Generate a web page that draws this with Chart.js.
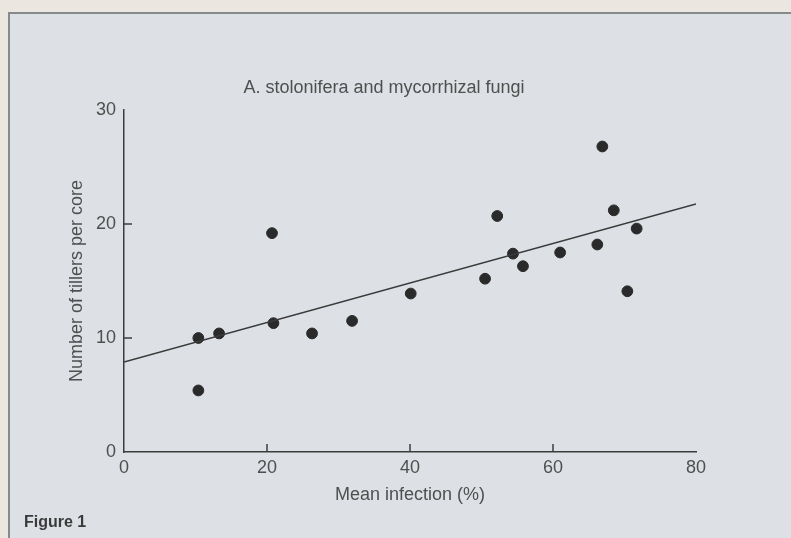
<!DOCTYPE html>
<html>
<head>
<meta charset="utf-8">
<script src="https://cdn.jsdelivr.net/npm/chart.js@4"></script>
<style>
  html, body { margin: 0; padding: 0; }
  body { width: 791px; height: 538px; overflow: hidden; background: #ebe6df; position: relative; font-family: "Liberation Sans", Arial, sans-serif; }
  #box { position: absolute; left: 8px; top: 12px; width: 800px; height: 540px; background: #dde1e5; border-left: 2px solid #858a8b; border-top: 2px solid #858a8b; }
  #wrap { position: absolute; left: 0; top: 0; width: 791px; height: 538px; }
  #fig { position: absolute; left: 24px; top: 513px; font-weight: bold; font-size: 16px; color: #3a3a3a; }
</style>
</head>
<body>
<div id="box"></div>
<div id="wrap"><canvas id="c"></canvas></div>
<div id="fig">Figure 1</div>
<script>
// Data
const infection = [10.4, 10.4, 13.3, 20.7, 20.9, 26.3, 31.9, 40.1, 50.5, 52.2, 54.4, 55.8, 61.0, 66.2, 66.9, 68.5, 70.4, 71.7];
const tillers   = [10.0, 5.4, 10.4, 19.2, 11.3, 10.4, 11.5, 13.9, 15.2, 20.7, 17.4, 16.3, 17.5, 18.2, 26.8, 21.2, 14.1, 19.6];
const fitX = [0, 80];
const fitY = [7.9, 21.75];
const xTicks = [0, 20, 40, 60, 80];
const yTicks = [0, 10, 20, 30];
const titleText = "A. stolonifera and mycorrhizal fungi";
const xTitle = "Mean infection (%)";
const yTitle = "Number of tillers per core";

const FONT = "'Liberation Sans', Arial, sans-serif";
const TXT = '#4f4f4f';
const AX = '#3c3c3c';

const points = infection.map((x, i) => ({x, y: tillers[i]}));
const line = fitX.map((x, i) => ({x, y: fitY[i]}));

const innerTicks = {
  id: 'innerTicks',
  afterDatasetsDraw(chart) {
    const {ctx, chartArea: a, scales: {x, y}} = chart;
    ctx.save();
    ctx.strokeStyle = AX;
    ctx.lineWidth = 1.5;
    ctx.beginPath();
    xTicks.slice(1, -1).forEach(v => {
      const px = x.getPixelForValue(v);
      ctx.moveTo(px, a.bottom); ctx.lineTo(px, a.bottom - 8);
    });
    yTicks.slice(1, -1).forEach(v => {
      const py = y.getPixelForValue(v);
      ctx.moveTo(a.left, py); ctx.lineTo(a.left + 8, py);
    });
    ctx.stroke();
    ctx.restore();
  }
};

new Chart(document.getElementById('c'), {
  type: 'scatter',
  data: {
    datasets: [
      { type: 'line', data: line, borderColor: '#3a3a3a', borderWidth: 1.5, pointRadius: 0, fill: false, tension: 0 },
      { data: points, backgroundColor: '#2a2a2a', borderColor: '#2a2a2a', pointRadius: 5.4, pointHoverRadius: 5.4 }
    ]
  },
  options: {
    responsive: true,
    maintainAspectRatio: false,
    animation: false,
    events: [],
    layout: { padding: { left: 72, right: 95, top: 77.7, bottom: 30 } },
    plugins: {
      legend: { display: false },
      tooltip: { enabled: false },
      title: {
        display: true, text: titleText, color: TXT,
        font: { family: FONT, size: 18, weight: 'normal' },
        padding: { top: 0, bottom: 10.7 }
      }
    },
    scales: {
      x: {
        type: 'linear', min: 0, max: 80,
        afterBuildTicks(s) { s.ticks = xTicks.map(v => ({value: v})); },
        afterFit(s) { s.height = 56; },
        grid: { display: false, drawTicks: false },
        border: { display: true, color: AX, width: 1.5 },
        ticks: { color: TXT, padding: 5, font: { family: FONT, size: 18 } },
        title: { display: true, text: xTitle, color: TXT, font: { family: FONT, size: 18 }, padding: { top: 0, bottom: 2 } }
      },
      y: {
        type: 'linear', min: 0, max: 30,
        afterBuildTicks(s) { s.ticks = yTicks.map(v => ({value: v})); },
        afterFit(s) { s.width = 52; },
        grid: { display: false, drawTicks: false },
        border: { display: true, color: AX, width: 1.5 },
        ticks: { color: TXT, padding: 8, font: { family: FONT, size: 18 } },
        title: { display: true, text: yTitle, color: TXT, font: { family: FONT, size: 18 }, padding: { top: -5.5, bottom: 0 } }
      }
    }
  },
  plugins: [innerTicks]
});
</script>
</body>
</html>
